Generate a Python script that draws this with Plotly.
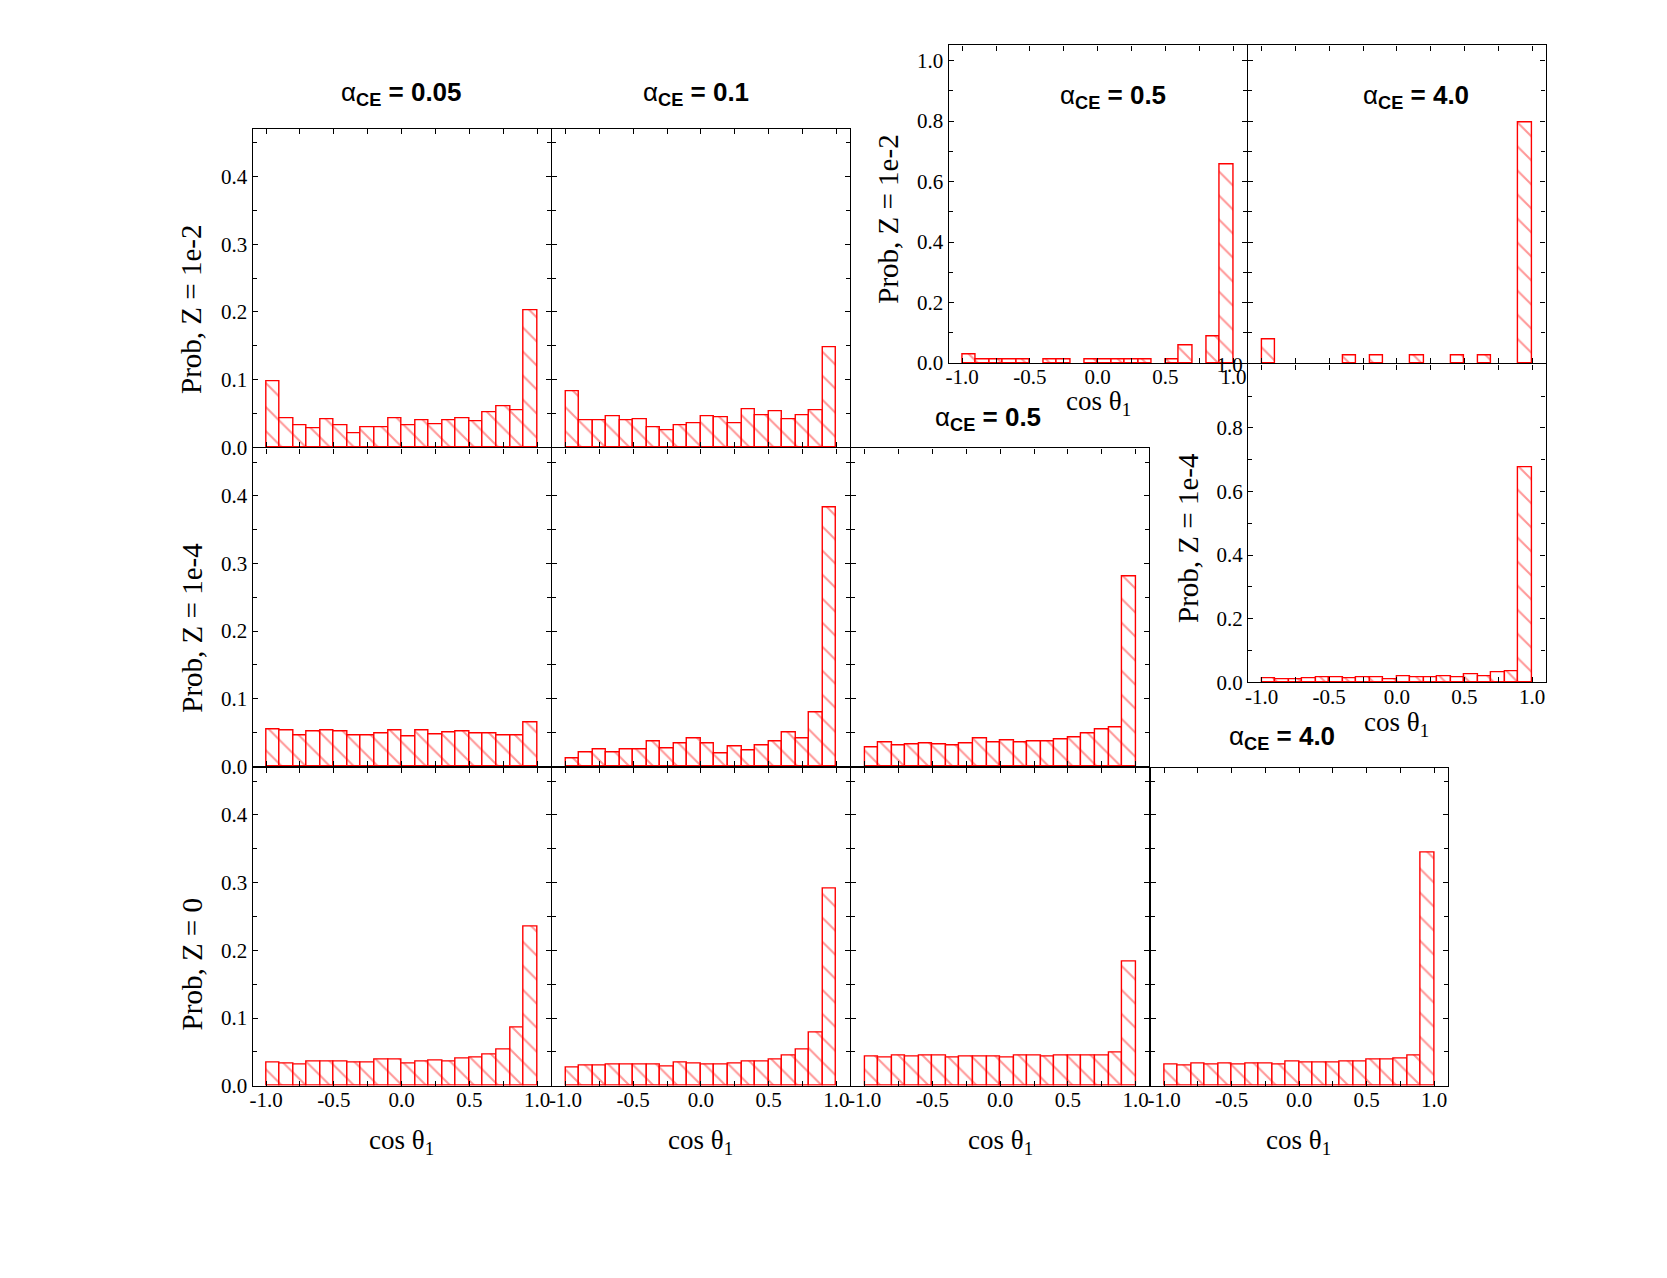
import plotly.graph_objects as go

W, H = 1667, 1278

# ---------------- data ----------------
bin_centers = [-0.95, -0.85, -0.75, -0.65, -0.55, -0.45, -0.35, -0.25, -0.15, -0.05,
               0.05, 0.15, 0.25, 0.35, 0.45, 0.55, 0.65, 0.75, 0.85, 0.95]
bin_width = 0.1

z1e2_a005 = [0.097, 0.043, 0.033, 0.028, 0.041, 0.032, 0.021, 0.030, 0.029, 0.042,
             0.033, 0.039, 0.034, 0.040, 0.042, 0.038, 0.052, 0.060, 0.055, 0.203]
z1e2_a01 = [0.082, 0.040, 0.040, 0.045, 0.039, 0.041, 0.029, 0.025, 0.033, 0.035,
            0.045, 0.044, 0.036, 0.056, 0.047, 0.053, 0.041, 0.047, 0.055, 0.147]
z1e4_a005 = [0.054, 0.053, 0.046, 0.052, 0.053, 0.051, 0.045, 0.046, 0.049, 0.053,
             0.044, 0.053, 0.047, 0.050, 0.052, 0.048, 0.049, 0.046, 0.046, 0.065]
z1e4_a01 = [0.011, 0.021, 0.025, 0.021, 0.025, 0.025, 0.036, 0.027, 0.033, 0.041,
            0.033, 0.019, 0.029, 0.024, 0.031, 0.036, 0.050, 0.041, 0.080, 0.383]
z1e4_a05 = [0.028, 0.035, 0.030, 0.032, 0.033, 0.032, 0.030, 0.033, 0.041, 0.035,
            0.038, 0.035, 0.036, 0.036, 0.040, 0.042, 0.049, 0.054, 0.058, 0.280]
z0_a005 = [0.034, 0.033, 0.032, 0.036, 0.035, 0.036, 0.034, 0.034, 0.039, 0.039,
           0.033, 0.036, 0.037, 0.036, 0.040, 0.042, 0.046, 0.053, 0.086, 0.235]
z0_a01 = [0.027, 0.030, 0.030, 0.032, 0.032, 0.031, 0.032, 0.029, 0.034, 0.033,
          0.031, 0.032, 0.033, 0.036, 0.035, 0.039, 0.045, 0.053, 0.078, 0.291]
z0_a05 = [0.043, 0.042, 0.044, 0.043, 0.044, 0.045, 0.041, 0.043, 0.043, 0.043,
          0.042, 0.044, 0.044, 0.043, 0.045, 0.044, 0.044, 0.045, 0.049, 0.183]
z0_a40 = [0.031, 0.030, 0.033, 0.032, 0.033, 0.032, 0.033, 0.033, 0.032, 0.036,
          0.034, 0.034, 0.034, 0.035, 0.036, 0.038, 0.039, 0.040, 0.045, 0.345]
z1e2_a05 = [0.028, 0.012, 0.012, 0.012, 0.012, None, 0.012, 0.012, None, 0.012,
            0.012, 0.012, 0.012, 0.012, None, 0.012, 0.058, None, 0.088, 0.657]
z1e2_a40 = [0.078, None, None, None, None, None, 0.027, None, 0.027, None,
            None, 0.027, None, None, 0.027, None, 0.027, None, None, 0.796]
z1e4_a40 = [0.014, 0.009, 0.009, 0.011, 0.015, 0.015, 0.013, 0.016, 0.016, 0.008,
            0.019, 0.015, 0.015, 0.019, 0.016, 0.026, 0.019, 0.032, 0.036, 0.675]

x_tick_vals = [-1.0, -0.5, 0.0, 0.5, 1.0]
x_tick_text = ["-1.0", "-0.5", "0.0", "0.5", "1.0"]
x_minor_vals = [-0.75, -0.25, 0.25, 0.75]

alpha_titles = ["0.05", "0.1", "0.5", "4.0"]
z_titles = ["Prob, Z = 1e-2", "Prob, Z = 1e-4", "Prob, Z = 0"]
x_title = "cos θ<sub>1</sub>"

# ---------------- layout (pixel boxes) ----------------
# vertical correction for the page capture (measured from a previous render)
VS, VO = 0.982, 10.5


def vy(y):
    return (y - VO) / VS


LW = 1.3  # frame line width

XC = [249.3, 549.3, 849.0, 1149.0, 1448.0]
YR = [127.3, 446.7, 766.0, 1085.7]
small = dict(yrange=[0, 0.47], ymaj=[0.0, 0.1, 0.2, 0.3, 0.4],
             ymin=[0.05, 0.15, 0.25, 0.35, 0.45])
big = dict(yrange=[0, 1.05], ymaj=[0.0, 0.2, 0.4, 0.6, 0.8, 1.0],
           ymin=[0.1, 0.3, 0.5, 0.7, 0.9])
big2 = dict(yrange=[0, 1.0], ymaj=[0.0, 0.2, 0.4, 0.6, 0.8, 1.0],
            ymin=[0.1, 0.3, 0.5, 0.7, 0.9])

panels = [
    # data, (x0, x1, y0, y1) px, yscale, show x labels, show y labels
    (z1e2_a005, (XC[0], XC[1], YR[0], YR[1]), small, False, True),
    (z1e2_a01, (XC[1], XC[2], YR[0], YR[1]), small, False, False),
    (z1e4_a005, (XC[0], XC[1], YR[1], YR[2]), small, False, True),
    (z1e4_a01, (XC[1], XC[2], YR[1], YR[2]), small, False, False),
    (z1e4_a05, (XC[2], XC[3], YR[1], YR[2]), small, False, False),
    (z0_a005, (XC[0], XC[1], YR[2], YR[3]), small, True, True),
    (z0_a01, (XC[1], XC[2], YR[2], YR[3]), small, True, False),
    (z0_a05, (XC[2], XC[3], YR[2], YR[3]), small, True, False),
    (z0_a40, (XC[3], XC[4], YR[2], YR[3]), small, True, False),
    (z1e2_a05, (946.7, 1246.7, 43.3, 362.5), big, True, True),
    (z1e2_a40, (1246.7, 1546.0, 43.3, 362.5), big, False, False),
    (z1e4_a40, (1246.7, 1546.0, 362.5, 682.0), big2, True, True),
]

tick_font = dict(family="Liberation Serif, Times New Roman, serif", size=21, color="black")
title_font = dict(family="Liberation Serif, Times New Roman, serif", size=29, color="black")
xtitle_font = dict(family="Liberation Serif, Times New Roman, serif", size=27, color="black")
alpha_font = dict(family="Liberation Sans, Arial, sans-serif", size=26, color="black")

fig = go.Figure()
layout = dict(
    width=W, height=H, margin=dict(l=0, r=0, t=0, b=0, pad=0),
    paper_bgcolor="white", plot_bgcolor="white", showlegend=False,
    bargap=0,
)

for i, (vals, (x0, x1, y0, y1), ys, showx, showy) in enumerate(panels, start=1):
    sfx = "" if i == 1 else str(i)
    # shrink by half a line width so neighbouring frames coincide
    dx0, dx1 = x0 + LW / 2, x1 - LW / 2
    dy0, dy1 = vy(y0) + LW / 2, vy(y1) - LW / 2
    fig.add_trace(go.Bar(
        x=bin_centers, y=vals, width=bin_width,
        xaxis="x" + sfx, yaxis="y" + sfx,
        marker=dict(color="white",
                    line=dict(color="#ff0000", width=1.4),
                    pattern=dict(shape="\\", fgcolor="#ff3030", bgcolor="white",
                                 size=17, solidity=0.12)),
        hoverinfo="skip",
    ))
    axis_common = dict(showline=True, linecolor="black", linewidth=LW, mirror="allticks",
                       ticks="inside", ticklen=5, tickwidth=1.2, tickcolor="black",
                       showgrid=False, zeroline=False, tickfont=tick_font, fixedrange=True)
    layout["xaxis" + sfx] = dict(
        axis_common, domain=[dx0 / W, dx1 / W], range=[-1.1, 1.1],
        anchor="y" + sfx, tickmode="array", tickvals=x_tick_vals, ticktext=x_tick_text,
        showticklabels=showx, ticklabelstandoff=-5,
        minor=dict(tickmode="array", tickvals=x_minor_vals, ticks="inside", ticklen=5,
                   tickcolor="black", showgrid=False),
    )
    layout["yaxis" + sfx] = dict(
        axis_common, domain=[1 - dy1 / H, 1 - dy0 / H], range=ys["yrange"],
        anchor="x" + sfx, tickmode="array", tickvals=ys["ymaj"],
        ticktext=["%.1f" % v for v in ys["ymaj"]],
        showticklabels=showy,
        minor=dict(tickmode="array", tickvals=ys["ymin"], ticks="inside", ticklen=4,
                   tickcolor="black", showgrid=False),
    )

annotations = []


def ann(text, px, py, font, angle=0):
    annotations.append(dict(text=text, x=px / W, y=1 - vy(py) / H, xref="paper", yref="paper",
                            showarrow=False, font=font, textangle=angle,
                            xanchor="center", yanchor="middle"))


def alpha_label(val):
    return "α<sub><b>CE</b></sub><b> = %s</b>" % val


ann(alpha_label(alpha_titles[0]), 399, 92, alpha_font)
ann(alpha_label(alpha_titles[1]), 694, 92, alpha_font)
ann(alpha_label(alpha_titles[2]), 987, 417, alpha_font)
ann(alpha_label(alpha_titles[3]), 1281, 737, alpha_font)
ann(alpha_label(alpha_titles[2]), 1112, 95, alpha_font)
ann(alpha_label(alpha_titles[3]), 1416, 95, alpha_font)

ann(z_titles[0], 189, 308, title_font, -90)
ann(z_titles[1], 189, 627, title_font, -90)
ann(z_titles[2], 189, 964, title_font, -90)
ann(z_titles[0], 887, 218, title_font, -90)
ann(z_titles[1], 1187, 537, title_font, -90)

for cx in [399, 699, 999, 1298]:
    ann(x_title, cx, 1141, xtitle_font)
ann(x_title, 1097, 402, xtitle_font)
ann(x_title, 1396, 723, xtitle_font)

layout["annotations"] = annotations
fig.update_layout(**layout)

fig.write_html("out.html", post_script="document.body.style.margin='0';",
               config={"displayModeBar": False})
